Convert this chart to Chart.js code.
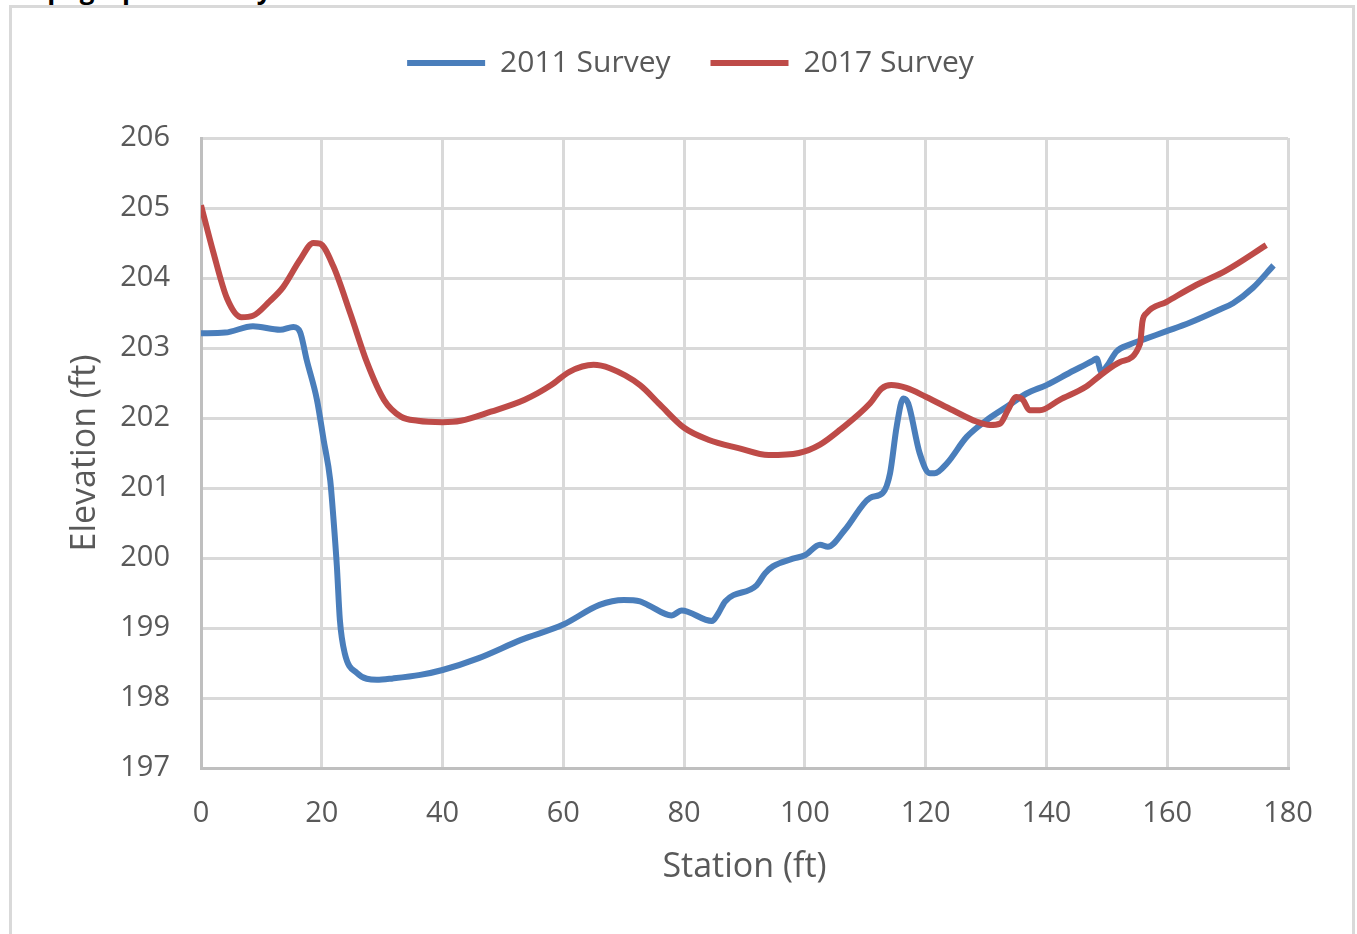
<!DOCTYPE html>
<html>
<head>
<meta charset="utf-8">
<script src="https://cdn.jsdelivr.net/npm/chart.js@4/dist/chart.umd.min.js"></script>
<style>
  html, body { margin: 0; padding: 0; background: #fff; width: 1357px; height: 934px; overflow: hidden; }
  #cut-title { position: absolute; left: 16px; top: -29px; font: bold 26px "Open Sans", sans-serif; color: #000; white-space: nowrap; }
  #frame { position: absolute; left: 9px; top: 5px; width: 1346px; height: 960px; border: 3px solid #d9d9d9; box-sizing: border-box; }
  #wrap { position: absolute; left: 0; top: 0; width: 1357px; height: 934px; }
</style>
</head>
<body>
<div id="cut-title">Topographic Survey</div>
<div id="frame"></div>
<div id="wrap"><canvas id="chart" width="1357" height="934"></canvas></div>
<script>
// 2011 survey, station (ft) / elevation (ft)
const station2011 = [0, 4, 8.6, 13.1, 15.3, 16.4, 17.5, 19.2, 20.3, 21.4, 21.9, 22.5, 23.0, 23.8, 25.8, 29.1, 31.8, 36.3, 40, 46, 53, 60, 66, 70, 72.7, 74, 77.9, 79.6, 84.6, 85.6, 86.8, 92, 93.4, 94.7, 98, 100, 102.5, 103.8, 106.6, 110.8, 112.9, 114.1, 115.2, 116.3, 117.1, 119, 120.7, 121.5, 123.5, 126.8, 130.1, 133.4, 136.7, 140, 143.9, 147.7, 148.3, 149.1, 150, 151.6, 153.8, 156, 159.9, 163.7, 168.7, 170.9, 174.2, 177.6];
const elev2011 = [203.21, 203.22, 203.31, 203.26, 203.3, 203.23, 202.83, 202.26, 201.69, 201.11, 200.6, 199.88, 199.11, 198.64, 198.36, 198.26, 198.28, 198.33, 198.4, 198.57, 198.83, 199.05, 199.33, 199.4, 199.38, 199.33, 199.18, 199.25, 199.1, 199.2, 199.38, 199.61, 199.78, 199.88, 199.99, 200.04, 200.19, 200.16, 200.4, 200.86, 200.93, 201.21, 201.88, 202.28, 202.21, 201.5, 201.21, 201.21, 201.35, 201.73, 201.97, 202.16, 202.35, 202.47, 202.65, 202.82, 202.85, 202.66, 202.74, 202.95, 203.05, 203.12, 203.24, 203.36, 203.55, 203.64, 203.86, 204.18];

// 2017 survey
const station2017 = [0, 2.0, 4.3, 6.7, 8.6, 11.4, 13.6, 16.4, 18.6, 19.7, 21.9, 24.7, 27.5, 30.3, 33.1, 35.9, 40, 43, 48, 53.6, 58, 61, 65, 67.7, 72.7, 76, 80, 84, 89, 94, 99, 102.5, 105.8, 110.8, 112.7, 114.3, 116.8, 120.1, 124.5, 128.4, 130.6, 132.3, 133.6, 135, 136.1, 137.2, 138.9, 142.2, 146.6, 148.8, 152.2, 155.5, 155.9, 156.6, 159.9, 164.8, 169.8, 176.4];
const elev2017 = [205.04, 204.38, 203.71, 203.44, 203.46, 203.67, 203.87, 204.26, 204.5, 204.49, 204.17, 203.5, 202.79, 202.26, 202.02, 201.96, 201.94, 201.96, 202.09, 202.26, 202.47, 202.66, 202.76, 202.71, 202.47, 202.19, 201.86, 201.69, 201.57, 201.47, 201.5, 201.62, 201.83, 202.21, 202.42, 202.47, 202.43, 202.3, 202.11, 201.95, 201.9, 201.92, 202.11, 202.3, 202.26, 202.11, 202.11, 202.26, 202.45, 202.6, 202.8, 203.06, 203.38, 203.5, 203.66, 203.9, 204.11, 204.47];

const seriesLabels = ["2011 Survey", "2017 Survey"];
const xMin = 0, xMax = 180, xStep = 20;
const yMin = 197, yMax = 206, yStep = 1;

const toPoints = (xs, ys) => xs.map((x, i) => ({ x, y: ys[i] }));

const GRID = "#d9d9d9";
const TEXT = "#595959";
const FONT = "'Open Sans', sans-serif";

// push the plot area down below the legend, and nudge the legend right
const legendGap = {
  id: "legendGap",
  beforeInit(chart) {
    const fit = chart.legend.fit;
    chart.legend.fit = function () {
      fit.bind(chart.legend)();
      this.height += 50;
    };
  },
  afterLayout(chart) {
    chart.legend.left += 14;
    chart.legend.right += 14;
  },
};

new Chart(document.getElementById("chart"), {
  type: "line",
  data: {
    datasets: [
      {
        label: seriesLabels[0],
        data: toPoints(station2011, elev2011),
        borderColor: "#4a7ebb",
        backgroundColor: "#4a7ebb",
        borderWidth: 6,
        pointRadius: 0,
        pointStyle: "line",
        cubicInterpolationMode: "monotone",
        order: 1,
      },
      {
        label: seriesLabels[1],
        data: toPoints(station2017, elev2017),
        borderColor: "#be4b48",
        backgroundColor: "#be4b48",
        borderWidth: 6,
        pointRadius: 0,
        pointStyle: "line",
        cubicInterpolationMode: "monotone",
        order: 0,
      },
    ],
  },
  plugins: [legendGap],
  options: {
    responsive: false,
    animation: false,
    layout: { padding: { left: 65, right: 69, top: 8, bottom: 0 } },
    plugins: {
      tooltip: { enabled: false },
      legend: {
        position: "top",
        labels: {
          usePointStyle: true,
          pointStyleWidth: 78,
          boxHeight: 30,
          padding: 40,
          color: TEXT,
          font: { family: FONT, size: 30 },
          sort: (a, b) => a.datasetIndex - b.datasetIndex,
        },
      },
    },
    scales: {
      x: {
        type: "linear",
        min: xMin,
        max: xMax,
        ticks: { stepSize: xStep, padding: 28, color: TEXT, font: { family: FONT, size: 29 } },
        grid: { color: GRID, lineWidth: 3, drawTicks: false },
        border: { color: "#bfbfbf", width: 3 },
        title: { display: true, text: "Station (ft)", color: TEXT, font: { family: FONT, size: 34 }, padding: { top: 0, bottom: 46 } },
        afterFit(scale) { scale.height = 934 - 768; },
      },
      y: {
        min: yMin,
        max: yMax,
        ticks: { stepSize: yStep, padding: 31, color: TEXT, font: { family: FONT, size: 29 } },
        grid: { color: GRID, lineWidth: 3, drawTicks: false },
        border: { color: "#bfbfbf", width: 3 },
        title: { display: true, text: "Elevation (ft)", color: TEXT, font: { family: FONT, size: 34 }, padding: 0 },
        afterFit(scale) { scale.width = 201 - 65; },
      },
    },
  },
});
</script>
</body>
</html>
